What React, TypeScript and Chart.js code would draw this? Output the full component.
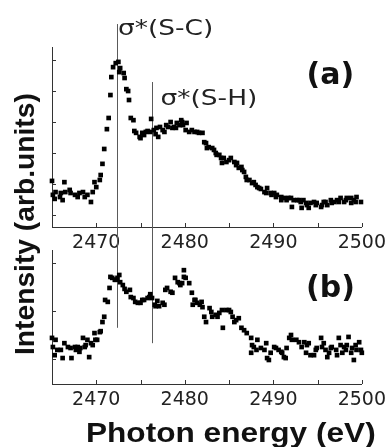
import React, { useEffect, useRef } from 'react';
import { Chart, registerables } from 'chart.js';

Chart.register(...registerables);

// Panel (a): photon energy (eV) and intensity (arb. units)
const energyA = [2465.0,2465.1,2465.3,2465.4,2465.9,2466.0,2466.2,2466.4,2466.5,2467.0,
2467.1,2467.6,2467.9,2468.1,2468.5,2468.7,2469.0,2469.4,2469.6,2469.8,
2470.0,2470.4,2470.5,2470.7,2470.9,2471.2,2471.4,2471.6,2471.7,2471.9,
2472.2,2472.5,2472.6,2472.7,2473.1,2473.2,2473.4,2473.6,2473.7,2473.9,
2474.2,2474.3,2474.5,2474.9,2475.0,2475.2,2475.6,2475.8,2476.1,2476.2,
2476.5,2476.8,2477.0,2477.2,2477.7,2477.9,2478.4,2478.6,2479.0,2479.4,
2479.7,2480.2,2480.5,2480.8,2481.4,2482.0,2482.4,2482.5,2483.1,2483.5,
2483.9,2484.2,2484.4,2485.0,2485.6,2485.9,2486.4,2486.7,2486.9,2487.3,
2487.8,2488.2,2488.6,2489.0,2489.3,2489.7,2490.1,2490.4,2490.9,2491.2,
2491.5,2492.0,2492.3,2492.7,2493.1,2493.2,2493.4,2493.8,2494.2,2494.6,
2494.9,2495.4,2495.7,2496.1,2496.5,2496.9,2497.2,2497.6,2498.0,2498.3,
2498.8,2499.1,2499.4,2499.9,
2475.4,2476.7,2477.5,2478.1,2478.8,2479.1,2479.6,2479.8,2480.1,2481.1,
2481.6,2482.2,2482.7,2483.3,2483.6,2484.1,2484.7,2485.2,2485.8,2486.1,
2486.5,2487.0,2487.6,2488.0,2488.4,2489.2,2489.8,2490.3,2490.9,2491.7,
2492.1,2492.9,2493.7,2494.0,2494.8,2495.5,2495.9,2496.6,2497.4,2498.2,
2498.8,2499.3];
const intensityA = [1.10,0.65,0.52,0.74,0.58,0.71,0.48,1.06,0.74,0.81,
0.71,0.65,0.58,0.71,0.74,0.58,0.65,0.42,0.74,1.06,
0.90,1.13,1.29,1.65,2.13,2.77,3.13,3.87,4.45,4.77,
4.90,4.94,4.61,4.74,4.58,4.42,4.06,4.00,3.71,3.13,
3.06,2.71,2.65,2.52,2.48,2.65,2.68,2.71,2.68,3.10,
2.74,2.81,2.52,2.84,2.68,2.90,3.00,2.81,2.81,2.90,
3.00,2.97,2.68,2.74,2.68,2.65,2.32,2.16,2.16,2.00,
1.94,1.68,1.84,1.77,1.71,1.68,1.55,1.39,1.23,1.13,
1.06,0.90,0.84,0.74,0.87,0.71,0.71,0.65,0.58,0.55,
0.48,0.55,0.48,0.48,0.42,0.23,0.48,0.32,0.39,0.42,
0.39,0.26,0.42,0.32,0.48,0.42,0.48,0.55,0.42,0.55,
0.39,0.48,0.58,0.42,
2.58,2.61,2.74,2.84,2.84,2.97,3.06,2.90,2.74,2.68,
2.65,2.35,2.19,2.10,1.94,1.84,1.71,1.84,1.61,1.52,
1.45,1.13,1.03,0.97,0.87,0.71,0.65,0.58,0.48,0.55,
0.26,0.48,0.39,0.23,0.32,0.32,0.42,0.39,0.42,0.48,
0.55,0.42];

// Panel (b)
const energyB = [2465.0,2465.1,2465.3,2465.4,2465.6,2466.0,2466.2,2466.4,2466.8,2467.1,
2467.2,2467.6,2467.7,2467.9,2468.1,2468.2,2468.5,2468.7,2468.8,2469.0,
2469.2,2469.4,2469.6,2469.8,2469.9,2470.1,2470.4,2470.5,2470.7,2470.9,
2471.0,2471.3,2471.5,2471.6,2471.8,2472.1,2472.2,2472.4,2472.6,2472.7,
2473.0,2473.2,2473.4,2473.8,2473.9,2474.2,2474.4,2474.7,2475.0,2475.2,
2475.4,2475.8,2476.0,2476.1,2476.3,2476.6,2476.7,2476.9,2477.1,2477.5,
2477.7,2477.8,2478.0,2478.4,2478.6,2478.9,2479.2,2479.4,2479.5,2479.7,
2479.9,2479.9,2480.1,2480.5,2480.8,2480.9,2481.1,2481.2,2481.4,2481.7,
2481.9,2482.0,2482.2,2482.4,2482.8,2483.0,2483.1,2483.5,2483.7,2483.9,
2484.2,2484.3,2484.7,2485.0,2485.2,2485.4,2485.6,2485.8,2486.1,2486.4,
2486.7,2487.0,2487.5,2487.5,2487.6,2487.8,2488.1,2488.2,2488.6,2489.0,
2489.2,2489.3,2489.5,2489.7,2490.1,2490.3,2490.6,2490.9,2491.0,2491.2,
2491.4,2491.5,2491.8,2492.0,2492.1,2492.6,2492.9,2493.2,2493.5,2493.7,
2493.8,2494.0,2494.2,2494.6,2494.8,2494.9,2495.4,2495.5,2495.7,2495.9,
2496.1,2496.3,2496.5,2496.6,2497.1,2497.2,2497.4,2497.6,2497.8,2498.0,
2498.2,2498.3,2498.5,2498.8,2498.9,2499.1,2499.3,2499.4,2499.7,2499.9,
2500.0];
const intensityB = [0.44,0.25,0.08,0.40,0.19,0.19,0.02,0.33,0.25,0.23,
0.02,0.25,0.19,0.25,0.15,0.23,0.44,0.25,0.29,0.40,
0.04,0.33,0.29,0.54,0.40,0.40,0.56,0.58,0.77,0.88,
1.23,1.19,1.48,1.71,1.69,1.65,1.65,1.69,1.75,1.60,
1.54,1.46,1.40,1.44,1.29,1.27,1.19,1.17,1.17,1.23,
1.23,1.27,1.29,1.35,1.27,1.13,1.10,1.21,1.10,1.17,
1.13,1.44,1.48,1.40,1.38,1.69,1.60,1.58,1.54,1.58,
1.85,1.71,1.69,1.58,1.38,1.13,1.23,1.23,1.17,1.13,
1.19,1.08,0.88,0.77,1.06,0.98,0.88,0.92,0.88,0.96,
1.02,0.65,1.02,1.02,0.98,0.88,0.77,0.81,0.85,0.65,
0.60,0.54,0.44,0.13,0.29,0.25,0.19,0.40,0.23,0.19,
0.33,0.02,-0.02,0.13,0.25,0.23,0.19,0.15,0.13,0.04,
0.02,0.23,0.44,0.50,0.40,0.40,0.35,0.25,0.35,0.13,
0.29,0.33,0.08,0.08,0.19,0.23,0.44,0.25,0.33,0.19,
0.04,0.13,0.23,0.25,0.19,0.08,0.44,0.29,0.13,0.25,
0.19,0.29,0.46,0.13,0.23,-0.02,0.29,0.19,0.35,0.19,
0.13];

const xTickLabels = [2470, 2480, 2490, 2500];
const xMinorTicks = [2470, 2475, 2480, 2485, 2490, 2495, 2500];
const yTicksA = [0, 1, 2, 3, 4, 5];
const yTicksB = [0, 1, 2];
const peakSC = 2472.3;
const peakSH = 2476.25;
const xTitle = 'Photon energy (eV)';
const yTitle = 'Intensity (arb.units)';

const decor = {
  id: 'decor',
  beforeDatasetsDraw(chart: any, _a: any, opts: any) {
    const { ctx, scales } = chart;
    const x = scales.x, y = scales.y;
    ctx.save();
    ctx.strokeStyle = '#5a5a5a';
    ctx.lineWidth = 1;
    ctx.beginPath();
    (opts.lines || []).forEach((l: any) => {
      const px = Math.round(x.getPixelForValue(l.x)) + 0.5;
      const y1 = l.top == null ? 0 : y.getPixelForValue(l.top);
      const y2 = l.bottom == null ? chart.height : y.getPixelForValue(l.bottom);
      ctx.moveTo(px, y1);
      ctx.lineTo(px, y2);
    });
    ctx.stroke();
    ctx.restore();
  },
  afterDraw(chart: any, _a: any, opts: any) {
    const { ctx, chartArea: a, scales } = chart;
    const x = scales.x, y = scales.y;
    ctx.save();
    ctx.strokeStyle = '#333';
    ctx.lineWidth = 1;
    ctx.beginPath();
    y.ticks.forEach((t: any) => {
      const py = Math.round(y.getPixelForValue(t.value)) + 0.5;
      ctx.moveTo(a.left, py);
      ctx.lineTo(a.left + 4, py);
    });
    xMinorTicks.forEach((v) => {
      const px = Math.round(x.getPixelForValue(v)) + 0.5;
      ctx.moveTo(px, a.bottom);
      ctx.lineTo(px, a.bottom - 4);
    });
    ctx.stroke();
    (opts.labels || []).forEach((lb: any) => {
      ctx.save();
      ctx.font = lb.font;
      ctx.fillStyle = lb.color;
      ctx.textAlign = lb.align;
      ctx.textBaseline = lb.baseline;
      ctx.translate(x.getPixelForValue(lb.x), y.getPixelForValue(lb.y));
      ctx.scale(lb.sx, 1);
      ctx.fillText(lb.text, 0, 0);
      ctx.restore();
    });
    ctx.restore();
  },
};

function makeConfig(energy: number[], intensity: number[], yMin: number, yMax: number, yTicks: number[], xHeight: number, padTop: number, decorOpts: any) {
  return {
    type: 'scatter' as const,
    data: {
      datasets: [{
        data: energy.map((e, i) => ({ x: e, y: intensity[i] })),
        pointStyle: 'rect',
        pointRadius: 3.3,
        pointBorderWidth: 0,
        backgroundColor: '#000',
        borderColor: '#000',
        clip: false,
      }],
    },
    options: {
      responsive: false,
      animation: false,
      events: [],
      layout: { padding: { left: 0, right: 28, top: padTop, bottom: 0 } },
      plugins: { legend: { display: false }, tooltip: { enabled: false }, decor: decorOpts },
      scales: {
        x: {
          type: 'linear',
          min: 2465,
          max: 2500,
          afterBuildTicks: (s: any) => { s.ticks = xTickLabels.map((v) => ({ value: v })); },
          afterFit: (s: any) => { s.height = xHeight; },
          grid: { display: false, drawTicks: false },
          border: { display: true, color: '#333', width: 1 },
          ticks: {
            padding: 5,
            color: '#222',
            maxRotation: 0,
            autoSkip: false,
            font: { family: 'DejaVu Sans', size: 19 },
            callback: (v: any) => String(v),
          },
        },
        y: {
          type: 'linear',
          min: yMin,
          max: yMax,
          afterBuildTicks: (s: any) => { s.ticks = yTicks.map((v) => ({ value: v })); },
          afterFit: (s: any) => { s.width = 52; },
          grid: { display: false, drawTicks: false },
          border: { display: true, color: '#333', width: 1 },
          ticks: { display: false },
        },
      },
    },
    plugins: [decor],
  };
}

export default function App() {
  const refA = useRef<HTMLCanvasElement>(null);
  const refB = useRef<HTMLCanvasElement>(null);
  const xTitleRef = useRef<HTMLSpanElement>(null);
  const yTitleRef = useRef<HTMLSpanElement>(null);

  useEffect(() => {
    const fit = (el: HTMLSpanElement | null, target: number) => {
      if (!el) return;
      const w = el.offsetWidth;
      if (w > 0) el.style.transform = `scaleX(${target / w})`;
    };
    fit(xTitleRef.current, 290);
    fit(yTitleRef.current, 262);

    const chartA = new Chart(refA.current as HTMLCanvasElement, makeConfig(
      energyA, intensityA, -0.387, 5.42, yTicksA, 29, 47,
      {
        lines: [{ x: peakSC, top: 6.16 }, { x: peakSH, top: 4.29 }],
        labels: [
          { text: 'σ*(S-C)', x: 2472.46, y: 5.81, font: '22px "DejaVu Sans"', color: '#222', align: 'left', baseline: 'alphabetic', sx: 1.2 },
          { text: 'σ*(S-H)', x: 2477.27, y: 3.55, font: '22px "DejaVu Sans"', color: '#222', align: 'left', baseline: 'alphabetic', sx: 1.2 },
          { text: '(a)', x: 2496.45, y: 4.47, font: 'bold 30px "DejaVu Sans"', color: '#111', align: 'center', baseline: 'middle', sx: 1 },
        ],
      },
    ) as any);
    const chartB = new Chart(refB.current as HTMLCanvasElement, makeConfig(
      energyB, intensityB, -0.52, 2.27, yTicksB, 63, 4,
      {
        lines: [{ x: peakSC, bottom: 0.65 }, { x: peakSH, bottom: 0.33 }],
        labels: [
          { text: '(b)', x: 2496.45, y: 1.46, font: 'bold 30px "DejaVu Sans"', color: '#111', align: 'center', baseline: 'middle', sx: 1 },
        ],
      },
    ) as any);
    return () => { chartA.destroy(); chartB.destroy(); };
  }, []);

  return (
    <div style={{ position: 'fixed', left: 0, top: 0, width: 391, height: 447, overflow: 'hidden', background: '#fff' }}>
      <canvas ref={refA} width={391} height={256} style={{ position: 'absolute', left: 0, top: 0, display: 'block' }} />
      <canvas ref={refB} width={391} height={201} style={{ position: 'absolute', left: 0, top: 246, display: 'block' }} />
      <div style={{
        position: 'absolute', left: -135, top: 208, width: 320, height: 32, lineHeight: '32px',
        transform: 'rotate(-90deg)', transformOrigin: 'center', textAlign: 'center', whiteSpace: 'nowrap',
      }}>
        <span ref={yTitleRef} style={{
          display: 'inline-block', transformOrigin: 'center',
          font: 'bold 28px "Liberation Sans", Arial, sans-serif', lineHeight: '32px', color: '#111',
        }}>{yTitle}</span>
      </div>
      <span ref={xTitleRef} style={{
        position: 'absolute', left: 86, top: 417, lineHeight: '30px', display: 'inline-block',
        transformOrigin: 'left center', whiteSpace: 'nowrap',
        font: 'bold 28px "Liberation Sans", Arial, sans-serif', color: '#111',
      }}>{xTitle}</span>
    </div>
  );
}
